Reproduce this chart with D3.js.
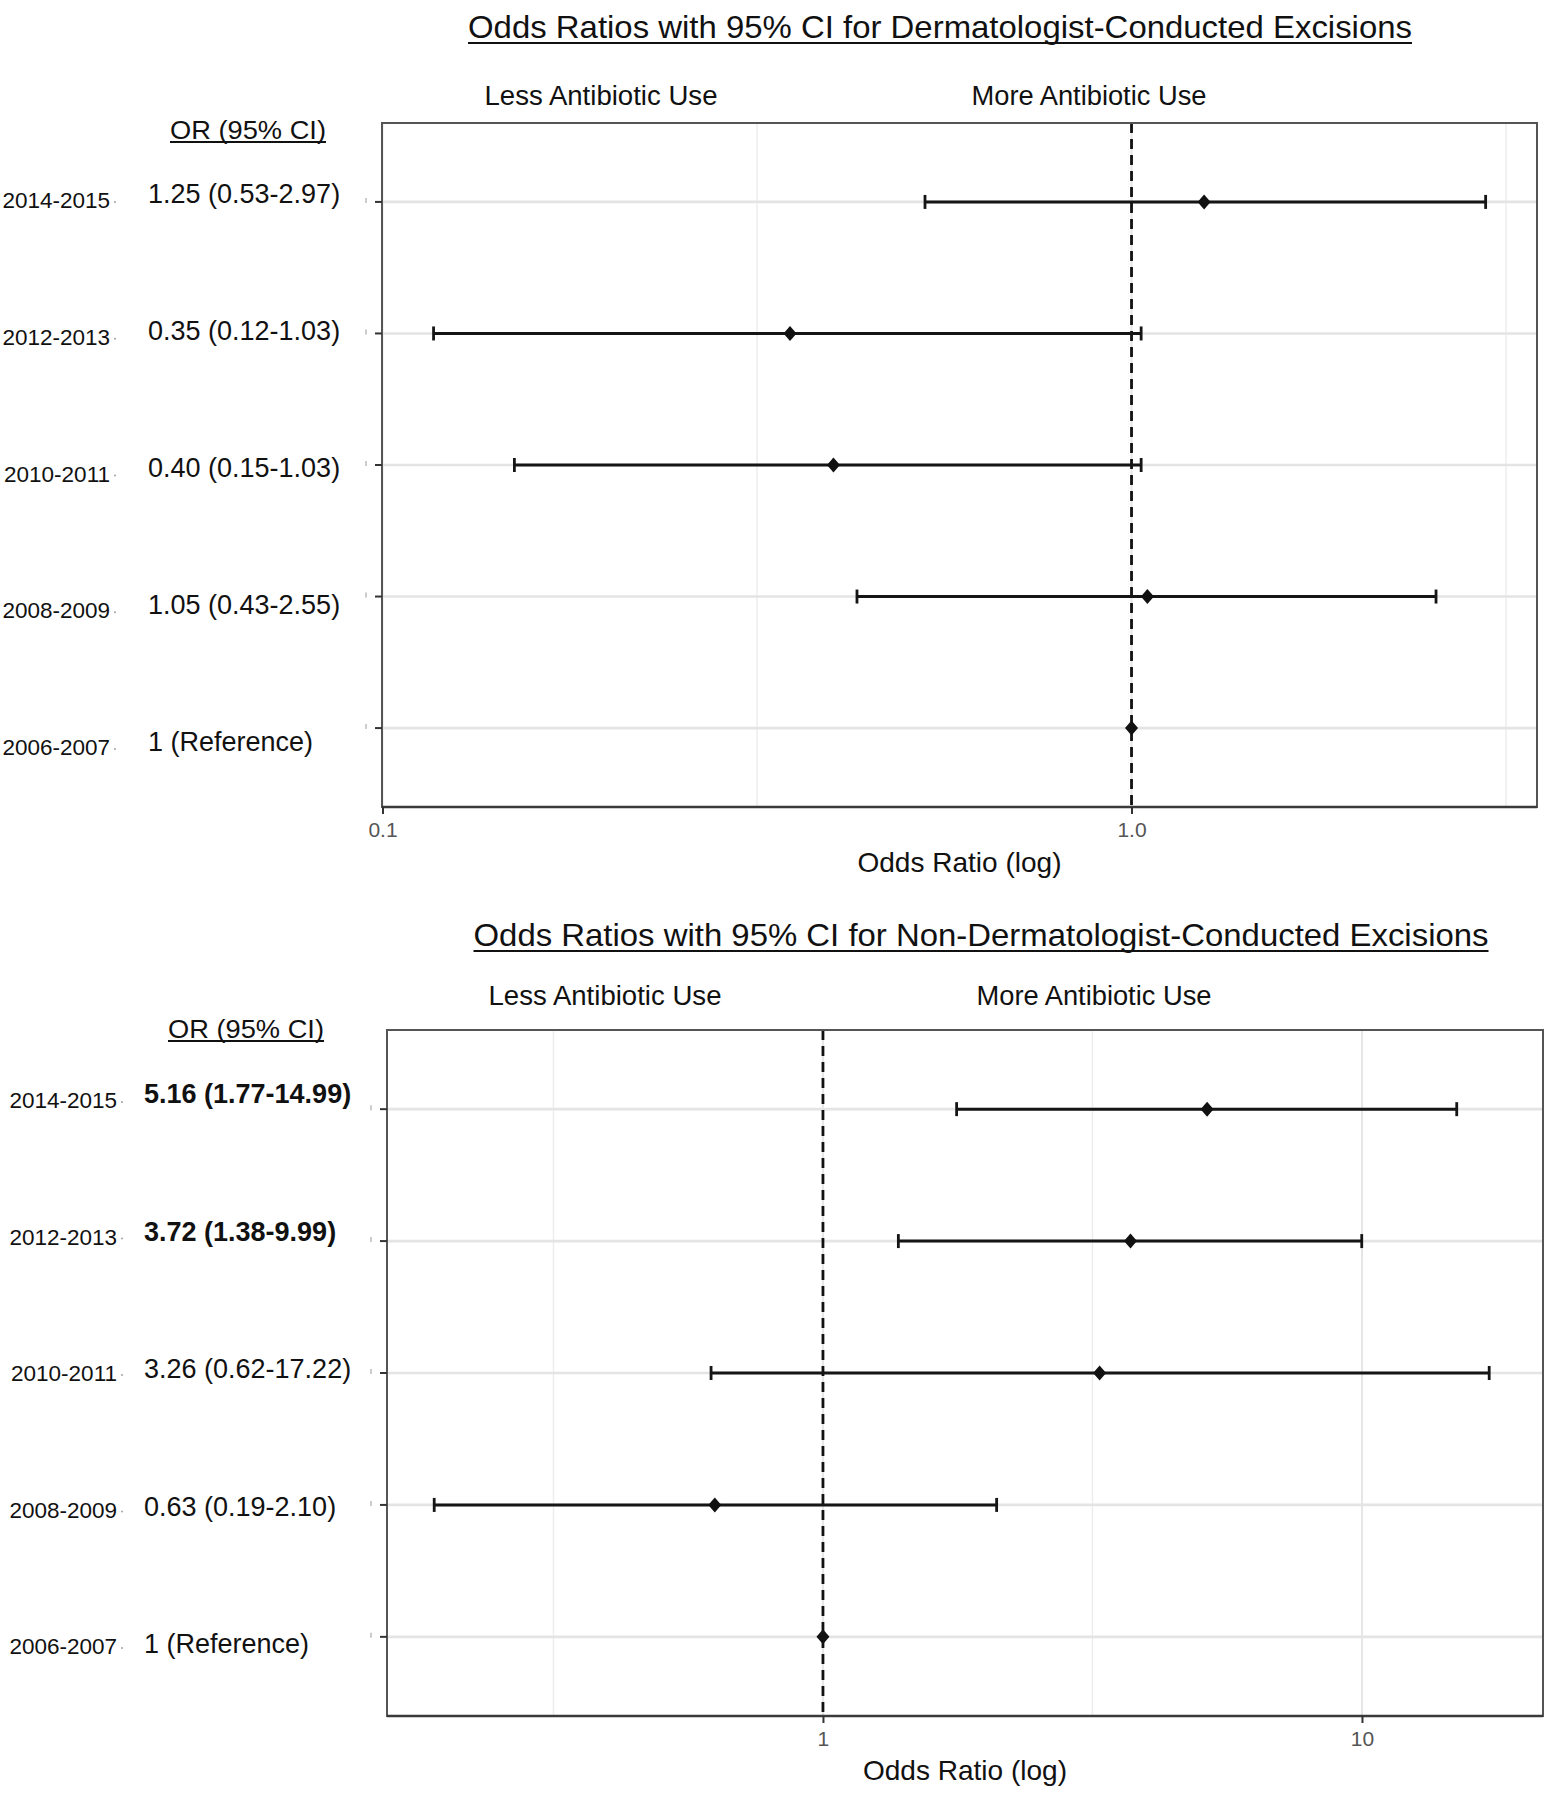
<!DOCTYPE html>
<html><head><meta charset="utf-8">
<script src="https://cdn.jsdelivr.net/npm/d3@7"></script>
<style>
body{margin:0;background:#fff}
text{font-family:"Liberation Sans",Arial,Helvetica,sans-serif}
</style>
</head><body>
<svg id="chart" width="1557" height="1800"></svg>
<script>
// ---------------- data ----------------
const periods = ["2006-2007", "2008-2009", "2010-2011", "2012-2013", "2014-2015"];

const dermOR    = [1, 1.05, 0.40, 0.35, 1.25];
const dermLow   = [null, 0.43, 0.15, 0.117, 0.53];
const dermHigh  = [null, 2.55, 1.03, 1.03, 2.97];
const dermText  = ["1 (Reference)", "1.05 (0.43-2.55)", "0.40 (0.15-1.03)", "0.35 (0.12-1.03)", "1.25 (0.53-2.97)"];
const dermBold  = [false, false, false, false, false];
const dermTicks = [0.1, 1.0];
const dermTickLabels = ["0.1", "1.0"];

const nonOR     = [1, 0.63, 3.26, 3.72, 5.16];
const nonLow    = [null, 0.19, 0.62, 1.38, 1.77];
const nonHigh   = [null, 2.10, 17.22, 9.99, 14.99];
const nonText   = ["1 (Reference)", "0.63 (0.19-2.10)", "3.26 (0.62-17.22)", "3.72 (1.38-9.99)", "5.16 (1.77-14.99)"];
const nonBold   = [false, false, false, true, true];
const nonTicks  = [1, 10];
const nonTickLabels = ["1", "10"];

const decadeBreaks = [0.01, 0.1, 1, 10, 100];

const titles = [
  "Odds Ratios with 95% CI for Dermatologist-Conducted Excisions",
  "Odds Ratios with 95% CI for Non-Dermatologist-Conducted Excisions"
];
const sideLess = "Less Antibiotic Use";
const sideMore = "More Antibiotic Use";
const orHeader = "OR (95% CI)";
const xTitle = "Odds Ratio (log)";

// ---------------- drawing ----------------
const svg = d3.select("#chart");
svg.append("rect").attr("width", 1557).attr("height", 1800).attr("fill", "#fff");

function underline(g, textSel, dy, w) {
  const bb = textSel.node().getBBox();
  const y = +textSel.attr("y") + dy;
  g.append("line").attr("x1", bb.x).attr("x2", bb.x + bb.width)
    .attr("y1", y).attr("y2", y).attr("stroke", "#111").attr("stroke-width", w);
}

function drawPanel(cfg) {
  const g = svg.append("g");
  const rows = periods.map((p, i) => ({
    p, i, or: cfg.or[i], lo: cfg.lo[i], hi: cfg.hi[i], txt: cfg.text[i], bold: cfg.bold[i]
  }));

  const x = d3.scaleLog().domain(cfg.domain).range([cfg.left, cfg.right]);
  const y = d3.scalePoint().domain(periods).range([cfg.bottom, cfg.top]).padding(0.6);
  const yearY = d3.scaleLinear().domain([0, periods.length - 1]).range(cfg.yearBase);
  const orY = d3.scaleLinear().domain([0, periods.length - 1]).range(cfg.orBase);

  const [d0, d1] = cfg.domain;
  const majors = decadeBreaks.filter(b => b >= d0 * 0.999 && b <= d1);
  const minors = d3.pairs(decadeBreaks).map(([a, b]) => Math.sqrt(a * b)).filter(b => b > d0 && b < d1);

  // titles
  const t = g.append("text").attr("x", cfg.titleX).attr("y", cfg.titleY)
    .attr("text-anchor", "middle").attr("font-size", 32).attr("fill", "#111")
    .attr("textLength", cfg.titleW).attr("lengthAdjust", "spacingAndGlyphs").text(cfg.title);
  underline(g, t, 5, 2.2);

  g.append("text").attr("x", cfg.lessX).attr("y", cfg.sideY).attr("text-anchor", "middle")
    .attr("font-size", 27).attr("fill", "#111").attr("textLength", 233)
    .attr("lengthAdjust", "spacingAndGlyphs").text(sideLess);
  g.append("text").attr("x", cfg.moreX).attr("y", cfg.sideY).attr("text-anchor", "middle")
    .attr("font-size", 27).attr("fill", "#111").attr("textLength", 235)
    .attr("lengthAdjust", "spacingAndGlyphs").text(sideMore);

  const oh = g.append("text").attr("x", cfg.orHeadX).attr("y", cfg.orHeadY).attr("text-anchor", "middle")
    .attr("font-size", 26).attr("fill", "#111").attr("textLength", 156)
    .attr("lengthAdjust", "spacingAndGlyphs").text(orHeader);
  underline(g, oh, 3, 1.8);

  // panel background grid
  g.selectAll(".minor").data(minors).join("line")
    .attr("x1", d => x(d)).attr("x2", d => x(d))
    .attr("y1", cfg.top).attr("y2", cfg.bottom)
    .attr("stroke", "#ececec").attr("stroke-width", 1.4);
  g.selectAll(".majorv").data(majors).join("line")
    .attr("x1", d => x(d)).attr("x2", d => x(d))
    .attr("y1", cfg.top).attr("y2", cfg.bottom)
    .attr("stroke", "#e6e6e6").attr("stroke-width", 2);
  g.selectAll(".majorh").data(periods).join("line")
    .attr("x1", cfg.left).attr("x2", cfg.right)
    .attr("y1", d => y(d)).attr("y2", d => y(d))
    .attr("stroke", "#e4e4e4").attr("stroke-width", 2.6);

  // reference line at OR = 1
  g.append("line").attr("x1", x(1)).attr("x2", x(1))
    .attr("y1", cfg.top).attr("y2", cfg.bottom)
    .attr("stroke", "#111").attr("stroke-width", 2.8).attr("stroke-dasharray", "10,6");

  // panel border
  g.append("rect").attr("x", cfg.left).attr("y", cfg.top)
    .attr("width", cfg.right - cfg.left).attr("height", cfg.bottom - cfg.top)
    .attr("fill", "none").attr("stroke", "#555").attr("stroke-width", 2);
  g.append("line").attr("x1", cfg.left).attr("x2", cfg.right)
    .attr("y1", cfg.bottom).attr("y2", cfg.bottom)
    .attr("stroke", "#3a3a3a").attr("stroke-width", 2.4);

  // y ticks
  g.selectAll(".yt").data(periods).join("line")
    .attr("x1", cfg.left - 7).attr("x2", cfg.left)
    .attr("y1", d => y(d)).attr("y2", d => y(d))
    .attr("stroke", "#333").attr("stroke-width", 2);
  // faint remnant marks left of the ticks
  g.selectAll(".rem").data(periods).join("line")
    .attr("x1", cfg.left - 16).attr("x2", cfg.left - 16)
    .attr("y1", d => y(d) - 4).attr("y2", d => y(d) + 1)
    .attr("stroke", "#aaa").attr("stroke-width", 1.2);

  // x axis
  const xa = d3.axisBottom(x).tickValues(cfg.ticks)
    .tickFormat((d, i) => cfg.tickLabels[i]).tickSize(7).tickPadding(8);
  const ax = g.append("g").attr("transform", `translate(0,${cfg.bottom})`).call(xa);
  ax.select(".domain").remove();
  ax.selectAll(".tick line").attr("stroke", "#333").attr("stroke-width", 2);
  ax.selectAll(".tick text").attr("font-size", 21).attr("fill", "#555")
    .attr("font-family", '"Liberation Sans",Arial,sans-serif');

  g.append("text").attr("x", (cfg.left + cfg.right) / 2).attr("y", cfg.xTitleY)
    .attr("text-anchor", "middle").attr("font-size", 28).attr("fill", "#111")
    .attr("textLength", 204).attr("lengthAdjust", "spacingAndGlyphs").text(xTitle);

  // confidence intervals
  const ci = rows.filter(r => r.lo != null);
  g.selectAll(".ci").data(ci).join("line")
    .attr("x1", d => x(d.lo)).attr("x2", d => x(d.hi))
    .attr("y1", d => y(d.p)).attr("y2", d => y(d.p))
    .attr("stroke", "#151515").attr("stroke-width", 3);
  g.selectAll(".capL").data(ci).join("line")
    .attr("x1", d => x(d.lo)).attr("x2", d => x(d.lo))
    .attr("y1", d => y(d.p) - 7).attr("y2", d => y(d.p) + 7)
    .attr("stroke", "#151515").attr("stroke-width", 2.8);
  g.selectAll(".capR").data(ci).join("line")
    .attr("x1", d => x(d.hi)).attr("x2", d => x(d.hi))
    .attr("y1", d => y(d.p) - 7).attr("y2", d => y(d.p) + 7)
    .attr("stroke", "#151515").attr("stroke-width", 2.8);

  // points (diamonds)
  g.selectAll(".pt").data(rows).join("path")
    .attr("d", "M0,-7.5L6.5,0L0,7.5L-6.5,0Z")
    .attr("transform", d => `translate(${x(d.or)},${y(d.p)})`)
    .attr("fill", "#111");

  // row labels
  g.selectAll(".yr").data(rows).join("text")
    .attr("x", cfg.yearRight).attr("y", d => yearY(d.i))
    .attr("text-anchor", "end").attr("font-size", 22.5).attr("fill", "#111")
    .text(d => d.p);
  g.selectAll(".yrdot").data(rows).join("circle")
    .attr("cx", cfg.yearRight + 5).attr("cy", d => yearY(d.i) - 6).attr("r", 0.9)
    .attr("fill", "#999");
  g.selectAll(".ortxt").data(rows).join("text")
    .attr("x", cfg.orLeft).attr("y", d => orY(d.i))
    .attr("font-size", 27).attr("fill", "#111")
    .attr("font-weight", d => d.bold ? "bold" : "normal")
    .text(d => d.txt);
}

drawPanel({
  title: titles[0], titleX: 940, titleY: 38, titleW: 944,
  lessX: 601, moreX: 1089, sideY: 105,
  orHeadX: 248, orHeadY: 139,
  left: 382, right: 1537, top: 123, bottom: 807,
  domain: [0.09985, 3.478],
  ticks: dermTicks, tickLabels: dermTickLabels,
  xTitleY: 872,
  or: dermOR, lo: dermLow, hi: dermHigh, text: dermText, bold: dermBold,
  yearRight: 110, yearBase: [755, 208],
  orLeft: 148, orBase: [751, 203]
});

drawPanel({
  title: titles[1], titleX: 981, titleY: 946, titleW: 1015,
  lessX: 605, moreX: 1094, sideY: 1005,
  orHeadX: 246, orHeadY: 1038,
  left: 387, right: 1543, top: 1030, bottom: 1716,
  domain: [0.1553, 21.67],
  ticks: nonTicks, tickLabels: nonTickLabels,
  xTitleY: 1780,
  or: nonOR, lo: nonLow, hi: nonHigh, text: nonText, bold: nonBold,
  yearRight: 117, yearBase: [1654, 1108],
  orLeft: 144, orBase: [1653, 1103]
});
</script>
</body></html>
